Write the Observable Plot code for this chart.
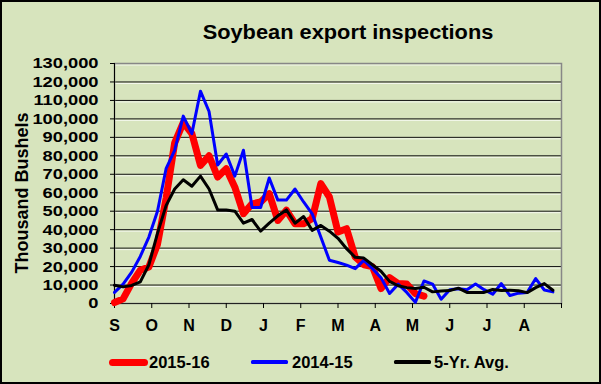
<!DOCTYPE html>
<html>
<head>
<meta charset="utf-8">
<script src="https://cdn.jsdelivr.net/npm/d3@7"></script>
<script src="https://cdn.jsdelivr.net/npm/@observablehq/plot@0.6"></script>
<style>
  html, body { margin: 0; padding: 0; background: #d7e4bd; }
  #chart {
    position: relative; width: 601px; height: 384px; overflow: hidden;
    background: #d7e4bd; box-shadow: inset 0 0 0 2px #000;
    font-family: "Liberation Sans", Arial, sans-serif; color: #000;
  }
  #title {
    position: absolute; top: 22px; left: 348px; white-space: nowrap;
    font-weight: bold; font-size: 20px; line-height: 20px;
    transform: translateX(-50%) scaleX(1.09);
  }
  #plot { position: absolute; left: 0; top: 45px; }
  .item { position: absolute; top: 352px; height: 20px; display: flex; align-items: center;
    font-weight: bold; font-size: 16.5px; line-height: 20px; white-space: nowrap; }
  .sw { display: inline-block; }
</style>
</head>
<body>
<div id="chart">
  <div id="title">Soybean export inspections</div>
  <div id="plot"></div>
  <div class="item" style="left:109px"><span class="sw" style="width:39px;height:7px;border-radius:3.5px;background:#ff0000"></span><span style="margin-left:1px">2015-16</span></div>
  <div class="item" style="left:251px"><span class="sw" style="width:37px;height:3.5px;border-radius:1.5px;background:#0000ff"></span><span style="margin-left:4px">2014-15</span></div>
  <div class="item" style="left:394px"><span class="sw" style="width:37px;height:3.5px;border-radius:1.5px;background:#000000"></span><span style="margin-left:3px">5-Yr. Avg.</span></div>
</div>
<script>
// Month tick labels (marketing year Sep-Aug)
const monthLabels = ["S","O","N","D","J","F","M","A","M","J","J","A"];
// Y ticks (thousand bushels)
const yTicks = [0,10000,20000,30000,40000,50000,60000,70000,80000,90000,100000,110000,120000,130000];

// Weekly inspections, thousand bushels (week 0 = first week of September)
const sales2015 = [500,2500,11000,18000,19800,32000,57000,87000,98000,92000,74800,80000,68500,73000,63000,48600,54000,55000,59500,45000,50500,43200,43200,46000,64900,57700,38700,40500,25200,21000,20000,8100,14000,10800,10500,5400,4000];
const sales2014 = [6000,10500,17000,25500,36000,50000,73000,83000,101500,92000,115000,104000,75000,81000,69000,83000,52000,52000,68000,56000,56000,62000,55000,48600,36000,23400,22200,20800,18900,23400,19000,14000,5400,10500,6000,600,12200,10500,2300,7500,8000,7500,10600,7500,5000,10800,4300,5600,6000,13500,7300,6300];
const avg5yr = [9900,9000,9800,11700,21000,38000,53000,62000,67000,63500,69000,62000,50700,50700,50000,43500,45500,39200,43500,47500,50700,43500,47100,39600,42300,39200,35300,29700,25000,24600,21000,17500,12000,9600,8600,8100,8800,6300,6800,7000,8300,6000,6000,6000,7600,7000,7200,6900,5900,8600,10800,7200];

const rows = arr => arr.map((v, i) => ({week: i, value: v}));
const monthTicks = d3.range(13).map(i => i * 52 / 12);
const gridTicks = yTicks.filter(d => d > 0 && d < 130000);

const plot = Plot.plot({
  width: 601, height: 300,
  marginTop: 18, marginBottom: 42, marginLeft: 114, marginRight: 40,
  style: {background: "transparent", fontFamily: "'Liberation Sans', Arial, sans-serif", color: "#000", overflow: "visible"},
  x: {domain: [0, 52]},
  y: {domain: [0, 130000]},
  marks: [
    Plot.ruleY(yTicks.filter(d => d > 0), {stroke: "#ffffff", strokeOpacity: 0.75, dy: 1.5}),
    Plot.gridY(gridTicks, {stroke: "#111", strokeOpacity: 1, strokeWidth: 1}),
    Plot.frame({stroke: "#878787", strokeWidth: 1.5}),
    Plot.ruleX([0], {stroke: "#000", strokeWidth: 1}),
    Plot.ruleY([0], {stroke: "#222", strokeWidth: 1}),
    Plot.axisY({ticks: yTicks, tickFormat: d3.format(","), tickSize: 4, tickPadding: 12,
      fontSize: 15.5, fontWeight: "bold", label: null}),
    Plot.axisX({ticks: monthTicks, tickFormat: d => monthLabels[Math.round(d * 12 / 52)] ?? "",
      tickSize: 5, tickPadding: 11.5, fontSize: 16, fontWeight: "bold", label: null}),
    Plot.line(rows(sales2015), {x: "week", y: "value", stroke: "#ff0000", strokeWidth: 7,
      strokeLinejoin: "round", strokeLinecap: "round"}),
    Plot.line(rows(sales2014), {x: "week", y: "value", stroke: "#0000ff", strokeWidth: 3,
      strokeLinejoin: "round"}),
    Plot.line(rows(avg5yr), {x: "week", y: "value", stroke: "#000000", strokeWidth: 3,
      strokeLinejoin: "round"}),
    Plot.text(["Thousand Bushels"], {text: d => d, frameAnchor: "left", dx: -92, dy: 9.5,
      rotate: -90, fontSize: 18, fontWeight: "bold", textAnchor: "middle", lineAnchor: "middle", fill: "#000"})
  ]
});

// widen y tick labels slightly, as in the reference
plot.querySelectorAll('g[aria-label="y-axis tick label"] text').forEach(t => {
  t.setAttribute("transform", (t.getAttribute("transform") || "") + " scale(1.18,1)");
});
document.getElementById("plot").appendChild(plot);
</script>
</body>
</html>
